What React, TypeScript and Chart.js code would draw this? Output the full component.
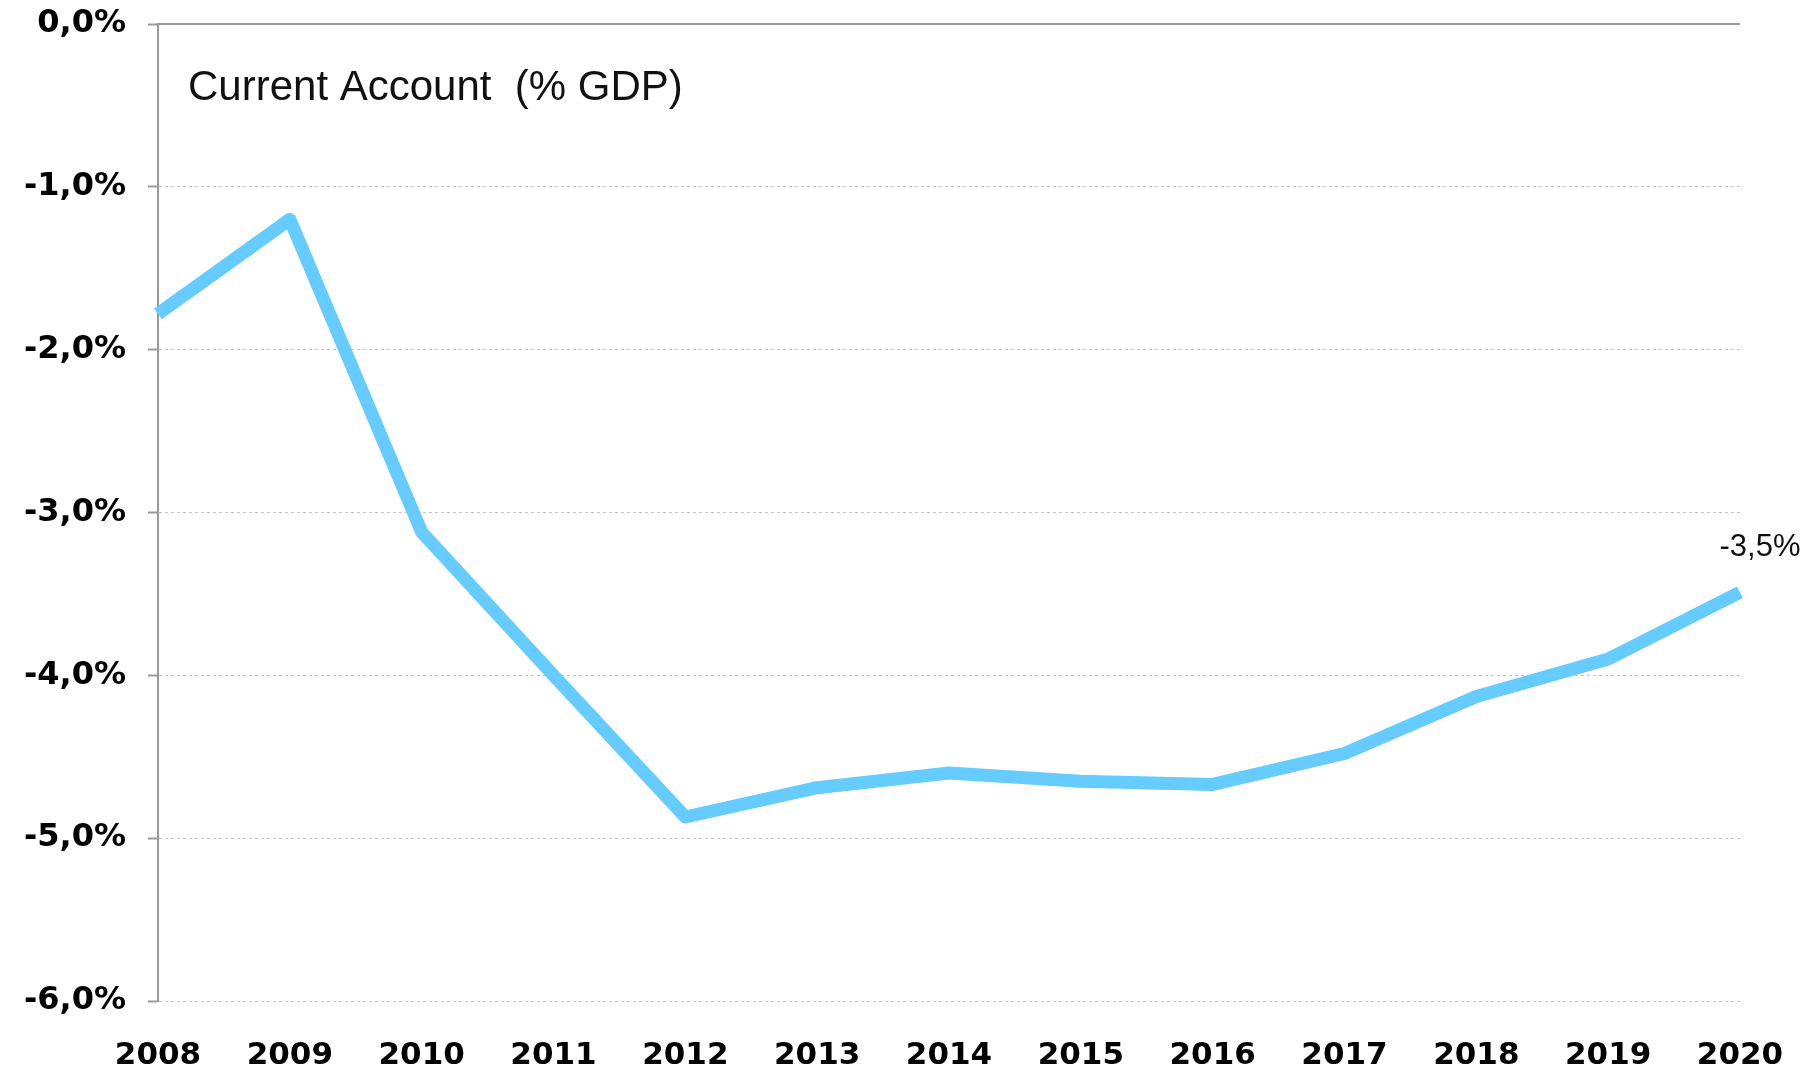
import React, { useEffect, useRef } from "react";
import Chart from "chart.js/auto";

const years = ["2008", "2009", "2010", "2011", "2012", "2013", "2014", "2015", "2016", "2017", "2018", "2019", "2020"];
const currentAccount = [-1.78, -1.2, -3.12, -4.0, -4.87, -4.69, -4.6, -4.65, -4.67, -4.48, -4.13, -3.9, -3.49];
const yTicks = [0, -1, -2, -3, -4, -5, -6];
const chartTitle = "Current Account  (% GDP)";
const lastPointLabel = "-3,5%";

const fmt = (v: number) => v.toFixed(1).replace(".", ",") + "%";

const overlayPlugin = {
  id: "overlay",
  beforeDatasetsDraw(chart: any) {
    const ctx = chart.ctx;
    const { left, right } = chart.chartArea;
    const y0 = chart.scales.y.getPixelForValue(0);
    ctx.save();
    ctx.strokeStyle = "#999999";
    ctx.lineWidth = 2;
    ctx.beginPath();
    ctx.moveTo(left, y0);
    ctx.lineTo(right, y0);
    ctx.stroke();
    ctx.restore();
  },
  afterDatasetsDraw(chart: any) {
    const ctx = chart.ctx;
    const { left, top } = chart.chartArea;
    ctx.save();
    ctx.fillStyle = "#111111";
    ctx.font = "42px 'Liberation Sans', Arial, sans-serif";
    ctx.textAlign = "left";
    ctx.textBaseline = "middle";
    ctx.fillText(chartTitle, left + 30, top + 64);
    const meta = chart.getDatasetMeta(0);
    const pt = meta.data[meta.data.length - 1];
    ctx.font = "31px 'Liberation Sans', Arial, sans-serif";
    ctx.textAlign = "center";
    ctx.fillText(lastPointLabel, pt.x + 20, pt.y - 45);
    ctx.restore();
  },
};

export default function App() {
  const ref = useRef<HTMLCanvasElement | null>(null);
  useEffect(() => {
    if (!ref.current) return;
    const xFont = { family: "'DejaVu Sans', Verdana, sans-serif", size: 31, weight: "bold" as const };
    const yFont = { family: "'DejaVu Sans', Verdana, sans-serif", size: 32, weight: "bold" as const };
    const chart = new Chart(ref.current, {
      type: "line",
      data: {
        labels: years,
        datasets: [
          {
            data: currentAccount,
            borderColor: "#66CCFF",
            borderWidth: 13,
            pointRadius: 0,
            pointHoverRadius: 0,
            tension: 0,
            borderCapStyle: "butt",
            borderJoinStyle: "round",
            fill: false,
          },
        ],
      },
      options: {
        animation: false,
        responsive: false,
        devicePixelRatio: 1,
        layout: { autoPadding: false, padding: { top: 24, right: 73, left: 0, bottom: 0 } },
        plugins: { legend: { display: false }, tooltip: { enabled: false }, title: { display: false } },
        scales: {
          x: {
            type: "category",
            offset: false,
            grid: { display: false, drawTicks: false },
            border: { display: false },
            ticks: {
              font: xFont,
              color: "#000000",
              padding: 36,
              maxRotation: 0,
              autoSkip: false,
            },
            afterFit: (s: any) => {
              s.height = 71;
              s.paddingLeft = 0;
              s.paddingRight = 0;
            },
          },
          y: {
            min: -6,
            max: 0,
            afterBuildTicks: (s: any) => {
              s.ticks = yTicks.map((v) => ({ value: v }));
            },
            grid: {
              color: (c: any) => (c.tick && c.tick.value === 0 ? "rgba(0,0,0,0)" : "#c4c4c4"),
              lineWidth: 1,
              drawTicks: true,
              tickLength: 10,
              tickColor: "#999999",
              tickWidth: 2,
            },
            border: { display: true, color: "#999999", width: 2, dash: [3, 3] },
            ticks: {
              font: yFont,
              color: "#000000",
              padding: 22,
              callback: (v: any) => fmt(Number(v)),
            },
            afterFit: (s: any) => {
              s.width = 158;
              s.paddingTop = 0;
              s.paddingBottom = 0;
            },
          },
        },
      },
      plugins: [overlayPlugin],
    });
    return () => chart.destroy();
  }, []);
  return (
    <div style={{ position: "fixed", left: 0, top: 0, width: 1813, height: 1072, background: "#ffffff" }}>
      <canvas ref={ref} width={1813} height={1072} style={{ width: 1813, height: 1072 }} />
    </div>
  );
}
